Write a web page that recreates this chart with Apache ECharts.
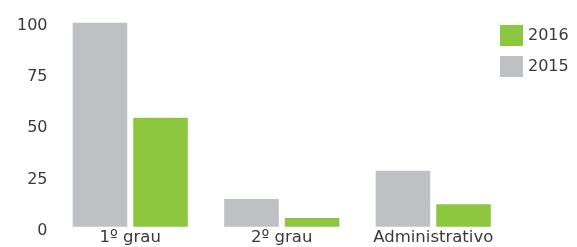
<!DOCTYPE html>
<html><head><meta charset="utf-8">
<script src="https://cdn.jsdelivr.net/npm/echarts@6/dist/echarts.min.js"></script>
<style>html,body{margin:0;padding:0;background:#fff}#c{width:577px;height:247px}</style>
</head><body><div id="c"></div>
<script>
const categories = ['1º grau', '2º grau', 'Administrativo'];
const values2015 = [99.5, 13.5, 27.3];
const values2016 = [53.2, 4.2, 10.9];
const yTicks = [0, 25, 50, 75, 100];

const chart = echarts.init(document.getElementById('c'));
const font = 'DejaVu Sans';
chart.setOption({
  animation: false,
  grid: { left: 54.5, top: 21.7, width: 454.5, bottom: 20.3, containLabel: false, outerBoundsMode: 'none' },
  legend: {
    data: ['2016', '2015'], orient: 'vertical', left: 495, top: 20,
    itemWidth: 23, itemHeight: 21, itemGap: 10, icon: 'rect',
    textStyle: { fontFamily: font, fontSize: 16, color: '#3a3a3a' }
  },
  xAxis: {
    type: 'category', data: categories,
    axisLine: { show: false }, axisTick: { show: false },
    axisLabel: { fontFamily: font, fontSize: 16.5, color: '#3a3a3a', margin: 3, interval: 0, hideOverlap: false }
  },
  yAxis: {
    type: 'value', min: yTicks[0], max: yTicks[yTicks.length - 1], interval: 25,
    splitLine: { show: false }, axisLine: { show: false }, axisTick: { show: false },
    axisLabel: { fontFamily: font, fontSize: 16, color: '#3a3a3a', margin: 7, verticalAlign: 'top', lineHeight: 8 }
  },
  series: [
    { name: '2015', type: 'bar', data: values2015, itemStyle: { color: '#bfc0c4' }, barGap: '11%', barCategoryGap: '24%' },
    { name: '2016', type: 'bar', data: values2016, itemStyle: { color: '#8dc63f' } }
  ]
});
</script></body></html>
